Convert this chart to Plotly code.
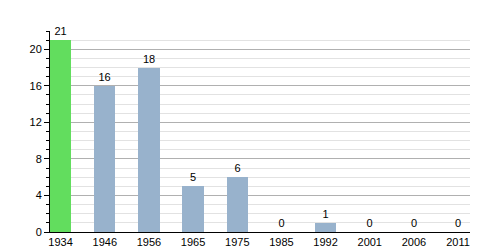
import plotly.graph_objects as go

years = ["1934", "1946", "1956", "1965", "1975", "1985", "1992", "2001", "2006", "2011"]
values = [21, 16, 18, 5, 6, 0, 1, 0, 0, 0]
colors = ["#62dd5e"] + ["#98b2cc"] * 9

idx = list(range(len(years)))
fig = go.Figure()
fig.add_trace(go.Bar(
    x=idx, y=values, width=0.48,
    marker=dict(color=colors, line=dict(width=0)),
    text=[str(v) for v in values], textposition="outside",
    textfont=dict(size=11, color="black", family="Liberation Sans, Arial"),
    cliponaxis=False,
))
fig.update_layout(
    width=500, height=250,
    margin=dict(l=50, r=30, t=31, b=18, autoexpand=False),
    paper_bgcolor="white", plot_bgcolor="white",
    showlegend=False,
    font=dict(family="Liberation Sans, Arial", size=11, color="black"),
    bargap=0,
)
fig.update_xaxes(
    range=[-0.24, 9.27], tickmode="array", tickvals=idx, ticktext=years,
    showgrid=False, showline=True, linecolor="black", linewidth=1,
    ticks="", zeroline=False, automargin=False,
    tickfont=dict(size=11, color="black"),
)
fig.update_yaxes(
    range=[0, 22], tickmode="linear", tick0=0, dtick=4,
    showgrid=True, gridcolor="#b0b0b0", gridwidth=1,
    showline=True, linecolor="black", linewidth=1,
    ticks="outside", ticklen=5, tickcolor="black",
    minor=dict(dtick=1, showgrid=True, gridcolor="#e2e2e2", gridwidth=1,
               ticks="outside", ticklen=3, tickcolor="black"),
    zeroline=False, automargin=False, tickfont=dict(size=11, color="black"),
)
fig.write_html("out.html")
